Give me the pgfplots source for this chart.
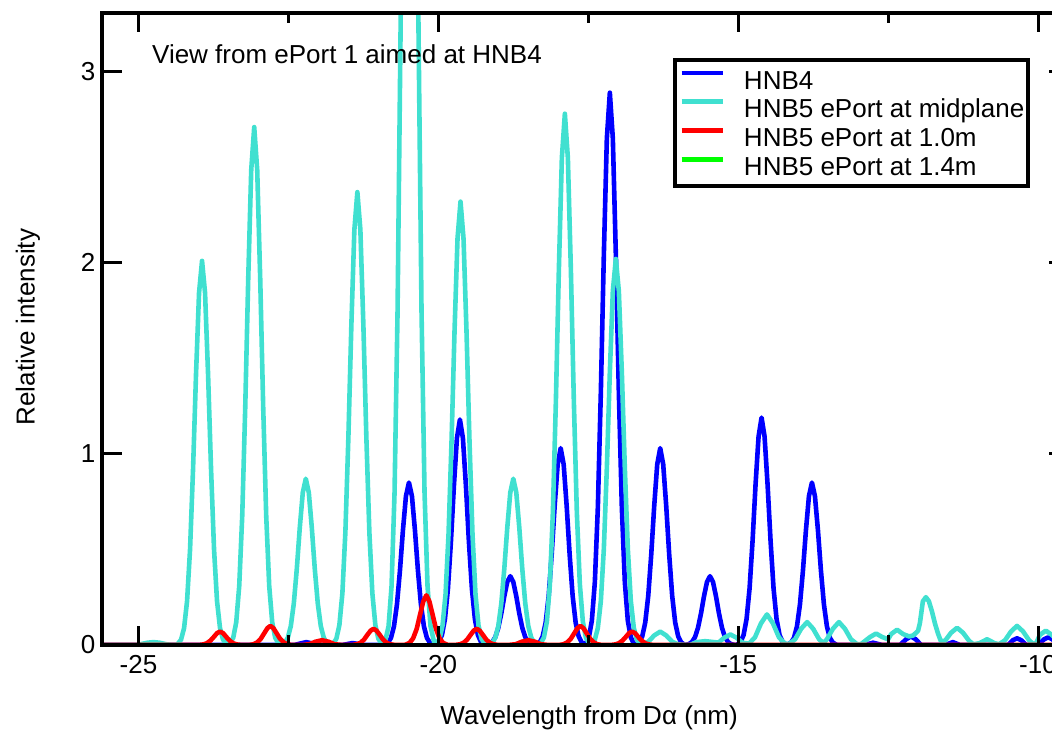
\documentclass[border=0pt]{standalone}
\usepackage{fontspec}
\setmainfont{Liberation Sans}
\usepackage{pgfplots}
\pgfplotsset{compat=1.18}
\definecolor{hnbblue}{RGB}{0,0,255}
\definecolor{hnbcyan}{RGB}{64,224,208}
\definecolor{hnbred}{RGB}{255,0,0}
\definecolor{hnbgreen}{RGB}{0,255,0}
\begin{document}
\begin{tikzpicture}[font=\fontsize{13pt}{15.6pt}\selectfont]
\begin{axis}[
  at={(0pt,0pt)}, anchor=south west,
  scale only axis, width=482.75pt, height=316pt,
  xmin=-25.6, xmax=-9.5, ymin=0, ymax=3.307,
  xtick={-25,-20,-15,-10}, minor xtick={-22.5,-17.5,-12.5},
  ytick={0,1,2,3},
  xtick pos=both, ytick pos=both, tick align=inside,
  major tick length=9.5pt, minor tick length=5pt,
  every tick/.style={black, line width=1.5pt},
  axis line style={line width=2pt},
  axis on top,
  /pgf/number format/assume math mode=true,
  xticklabel style={yshift=-1.6pt},
  xlabel={Wavelength from Dα (nm)},
  xlabel style={at={(axis description cs:0.504,-0.1155)}, anchor=center},
  ylabel={Relative intensity},
  ylabel style={at={(axis description cs:-0.0772,0.503)}, anchor=center},
  legend cell align=left,
  legend style={at={(axis description cs:0.961,0.9295)}, anchor=north east,
    draw=black, line width=2pt, inner xsep=2pt, inner ysep=5.3pt,
    row sep=4.9pt, column sep=9.5pt,
    nodes={inner sep=0pt, text height=9.5pt, text depth=0pt}},
  legend image code/.code={\draw[#1, line width=2.3pt] (0pt,3.4pt) -- (20.5pt,3.4pt);},
  every axis plot/.append style={line width=2.3pt, line join=round},
]
% HNB4
\addplot[hnbblue] coordinates {
(-25.6,0) (-22.4,0) (-22.3,0.008) (-22.2,0.015) (-22.1,0.008) (-22.0,0)
(-21.6,0) (-21.5,0.006) (-21.43,0.01) (-21.35,0.006) (-21.25,0)
(-20.91,0) (-20.84,0.012) (-20.79,0.037) (-20.74,0.097) (-20.69,0.212) (-20.64,0.389) (-20.59,0.601) (-20.54,0.779) (-20.49,0.85) (-20.44,0.779) (-20.39,0.601) (-20.34,0.389) (-20.29,0.212) (-20.24,0.097) (-20.19,0.037) (-20.14,0.012) (-20.07,0)
(-20.06,0) (-19.99,0.017) (-19.94,0.052) (-19.89,0.135) (-19.84,0.294) (-19.79,0.540) (-19.74,0.834) (-19.69,1.082) (-19.64,1.18) (-19.59,1.082) (-19.54,0.834) (-19.49,0.540) (-19.44,0.294) (-19.39,0.135) (-19.34,0.052) (-19.29,0.017) (-19.22,0)
(-19.21,0) (-19.15,0.005) (-19.10,0.016) (-19.05,0.041) (-19.00,0.090) (-18.95,0.165) (-18.90,0.255) (-18.85,0.330) (-18.80,0.36) (-18.75,0.330) (-18.70,0.255) (-18.65,0.165) (-18.60,0.090) (-18.55,0.041) (-18.50,0.016) (-18.45,0.005) (-18.39,0)
(-18.38,0) (-18.31,0.014) (-18.26,0.045) (-18.21,0.117) (-18.16,0.256) (-18.11,0.472) (-18.06,0.728) (-18.01,0.945) (-17.96,1.03) (-17.91,0.945) (-17.86,0.728) (-17.81,0.472) (-17.76,0.256) (-17.71,0.117) (-17.66,0.045) (-17.61,0.014) (-17.55,0)
(-17.55,0) (-17.49,0.040) (-17.44,0.127) (-17.39,0.329) (-17.34,0.720) (-17.29,1.324) (-17.24,2.043) (-17.19,2.650) (-17.14,2.89) (-17.09,2.650) (-17.04,2.043) (-16.99,1.324) (-16.94,0.720) (-16.89,0.329) (-16.84,0.127) (-16.79,0.040) (-16.73,0)
(-16.72,0) (-16.65,0.014) (-16.60,0.045) (-16.55,0.117) (-16.50,0.256) (-16.45,0.472) (-16.40,0.728) (-16.35,0.945) (-16.30,1.03) (-16.25,0.945) (-16.20,0.728) (-16.15,0.472) (-16.10,0.256) (-16.05,0.117) (-16.00,0.045) (-15.95,0.014) (-15.89,0)
(-15.89,0) (-15.82,0.005) (-15.77,0.016) (-15.72,0.041) (-15.67,0.090) (-15.62,0.165) (-15.57,0.255) (-15.52,0.330) (-15.47,0.36) (-15.42,0.330) (-15.37,0.255) (-15.32,0.165) (-15.27,0.090) (-15.22,0.041) (-15.17,0.016) (-15.12,0.005) (-15.05,0)
(-15.03,0) (-14.96,0.017) (-14.91,0.052) (-14.86,0.136) (-14.81,0.296) (-14.76,0.545) (-14.71,0.841) (-14.66,1.091) (-14.61,1.19) (-14.56,1.091) (-14.51,0.841) (-14.46,0.545) (-14.41,0.296) (-14.36,0.136) (-14.31,0.052) (-14.26,0.017) (-14.19,0)
(-14.19,0) (-14.12,0.012) (-14.07,0.037) (-14.02,0.097) (-13.97,0.212) (-13.92,0.389) (-13.87,0.601) (-13.82,0.779) (-13.77,0.85) (-13.72,0.779) (-13.67,0.601) (-13.62,0.389) (-13.57,0.212) (-13.52,0.097) (-13.47,0.037) (-13.42,0.012) (-13.35,0)
(-12.9,0) (-12.75,0.012) (-12.6,0) (-12.3,0) (-12.2,0.03) (-12.12,0.045) (-12.04,0.03) (-11.95,0)
(-11.55,0) (-11.42,0.015) (-11.3,0) (-10.5,0) (-10.42,0.025) (-10.35,0.035) (-10.28,0.025) (-10.2,0)
(-10.0,0) (-9.9,0.03) (-9.83,0.04) (-9.76,0.03) (-9.68,0) (-9.5,0)
};
\addlegendentry{HNB4}
% HNB5, ePort at midplane
\addplot[hnbcyan] coordinates {
(-25.6,0) (-25.0,0) (-24.95,0.005) (-24.85,0.012) (-24.75,0.015) (-24.65,0.012) (-24.55,0.005) (-24.45,0)
(-24.36,0) (-24.29,0.028) (-24.24,0.088) (-24.19,0.229) (-24.14,0.500) (-24.09,0.921) (-24.04,1.421) (-23.99,1.843) (-23.94,2.01) (-23.89,1.843) (-23.84,1.421) (-23.79,0.921) (-23.74,0.500) (-23.69,0.229) (-23.64,0.088) (-23.59,0.028) (-23.52,0)
(-23.49,0) (-23.42,0.038) (-23.37,0.119) (-23.32,0.309) (-23.27,0.675) (-23.22,1.241) (-23.17,1.916) (-23.12,2.485) (-23.07,2.71) (-23.02,2.485) (-22.97,1.916) (-22.92,1.241) (-22.87,0.675) (-22.82,0.309) (-22.77,0.119) (-22.72,0.038) (-22.65,0)
(-22.63,0) (-22.56,0.012) (-22.51,0.038) (-22.46,0.099) (-22.41,0.217) (-22.36,0.398) (-22.31,0.615) (-22.26,0.798) (-22.21,0.87) (-22.16,0.798) (-22.11,0.615) (-22.06,0.398) (-22.01,0.217) (-21.96,0.099) (-21.91,0.038) (-21.86,0.012) (-21.79,0)
(-21.77,0) (-21.70,0.033) (-21.65,0.104) (-21.60,0.270) (-21.55,0.590) (-21.50,1.085) (-21.45,1.676) (-21.40,2.173) (-21.35,2.37) (-21.30,2.173) (-21.25,1.676) (-21.20,1.085) (-21.15,0.590) (-21.10,0.270) (-21.05,0.104) (-21.00,0.033) (-20.93,0)
(-20.90,0) (-20.88,0.028) (-20.83,0.098) (-20.78,0.308) (-20.73,0.798) (-20.68,1.743) (-20.63,3.206) (-20.58,4.949) (-20.53,6.419) (-20.48,7.0) (-20.43,6.419) (-20.38,4.949) (-20.33,3.206) (-20.28,1.743) (-20.23,0.798) (-20.18,0.308) (-20.13,0.098) (-20.08,0.028) (-20.06,0)
(-20.05,0) (-19.98,0.032) (-19.93,0.102) (-19.88,0.264) (-19.83,0.578) (-19.78,1.063) (-19.73,1.640) (-19.68,2.127) (-19.63,2.32) (-19.58,2.127) (-19.53,1.640) (-19.48,1.063) (-19.43,0.578) (-19.38,0.264) (-19.33,0.102) (-19.28,0.032) (-19.21,0)
(-19.17,0) (-19.10,0.012) (-19.05,0.038) (-19.00,0.099) (-18.95,0.217) (-18.90,0.398) (-18.85,0.615) (-18.80,0.798) (-18.75,0.87) (-18.70,0.798) (-18.65,0.615) (-18.60,0.398) (-18.55,0.217) (-18.50,0.099) (-18.45,0.038) (-18.40,0.012) (-18.33,0)
(-18.31,0) (-18.24,0.039) (-18.19,0.122) (-18.14,0.317) (-18.09,0.692) (-18.04,1.273) (-17.99,1.965) (-17.94,2.549) (-17.89,2.78) (-17.84,2.549) (-17.79,1.965) (-17.74,1.273) (-17.69,0.692) (-17.64,0.317) (-17.59,0.122) (-17.54,0.039) (-17.47,0)
(-17.46,0) (-17.39,0.028) (-17.34,0.089) (-17.29,0.230) (-17.24,0.503) (-17.19,0.925) (-17.14,1.428) (-17.09,1.852) (-17.04,2.02) (-16.99,1.852) (-16.94,1.428) (-16.89,0.925) (-16.84,0.503) (-16.79,0.230) (-16.74,0.089) (-16.69,0.028) (-16.62,0)
(-16.6,0.003) (-16.5,0.017) (-16.4,0.05) (-16.3,0.07) (-16.2,0.05) (-16.1,0.017) (-16.0,0.003)
(-15.8,0) (-15.7,0.015) (-15.55,0.02) (-15.4,0.015) (-15.33,0.012)
(-15.23,0.039) (-15.13,0.055) (-15.03,0.039) (-14.93,0.012)
(-14.82,0.007) (-14.72,0.04) (-14.62,0.113) (-14.52,0.16) (-14.42,0.113) (-14.32,0.04) (-14.22,0.007)
(-14.15,0.005) (-14.05,0.03) (-13.95,0.085) (-13.85,0.12) (-13.75,0.085) (-13.65,0.03) (-13.58,0.01)
(-13.52,0.03) (-13.42,0.085) (-13.32,0.12) (-13.22,0.085) (-13.12,0.03) (-13.02,0.005)
(-12.95,0.005) (-12.8,0.042) (-12.7,0.06) (-12.6,0.042) (-12.5,0.03)
(-12.45,0.057) (-12.35,0.08) (-12.25,0.057) (-12.15,0.045)
(-12.08,0.05) (-12.0,0.075) (-11.97,0.114) (-11.92,0.229) (-11.87,0.25) (-11.82,0.229) (-11.77,0.177) (-11.72,0.114) (-11.67,0.062) (-11.62,0.02)
(-11.55,0.022) (-11.45,0.064) (-11.35,0.09) (-11.25,0.064) (-11.15,0.022) (-11.08,0.004)
(-10.98,0.009) (-10.85,0.03) (-10.72,0.009) (-10.65,0.004)
(-10.55,0.025) (-10.45,0.071) (-10.35,0.10) (-10.25,0.071) (-10.15,0.025) (-10.08,0.005)
(-10.03,0.01) (-9.97,0.053) (-9.87,0.075) (-9.77,0.053) (-9.67,0.019) (-9.6,0.003) (-9.5,0)
};
\addlegendentry{HNB5 ePort at midplane}
% HNB5, ePort at 1.0 m
\addplot[hnbred] coordinates {
(-25.6,0)
(-24.00,0) (-23.92,0.003) (-23.86,0.009) (-23.80,0.023) (-23.75,0.040) (-23.69,0.062) (-23.64,0.07) (-23.59,0.062) (-23.53,0.040) (-23.48,0.023) (-23.42,0.009) (-23.36,0.003) (-23.28,0)
(-23.16,0) (-23.08,0.004) (-23.02,0.014) (-22.96,0.033) (-22.91,0.058) (-22.85,0.088) (-22.80,0.10) (-22.75,0.088) (-22.69,0.058) (-22.64,0.033) (-22.58,0.014) (-22.52,0.004) (-22.44,0)
(-22.28,0) (-22.15,0.004) (-22.05,0.017) (-21.94,0.025) (-21.83,0.017) (-21.73,0.004) (-21.60,0)
(-21.44,0) (-21.36,0.004) (-21.30,0.011) (-21.24,0.028) (-21.19,0.050) (-21.13,0.075) (-21.08,0.085) (-21.03,0.075) (-20.97,0.050) (-20.92,0.028) (-20.86,0.011) (-20.80,0.004) (-20.72,0)
(-20.56,0) (-20.48,0.011) (-20.42,0.035) (-20.36,0.085) (-20.31,0.152) (-20.25,0.229) (-20.20,0.26) (-20.15,0.229) (-20.09,0.152) (-20.04,0.085) (-19.98,0.035) (-19.92,0.011) (-19.84,0)
(-19.72,0) (-19.64,0.004) (-19.58,0.011) (-19.52,0.028) (-19.47,0.050) (-19.41,0.075) (-19.36,0.085) (-19.31,0.075) (-19.25,0.050) (-19.20,0.028) (-19.14,0.011) (-19.08,0.004) (-19.00,0)
(-18.84,0) (-18.71,0.004) (-18.61,0.017) (-18.50,0.025) (-18.39,0.017) (-18.29,0.004) (-18.16,0)
(-17.99,0) (-17.91,0.004) (-17.85,0.014) (-17.79,0.033) (-17.74,0.058) (-17.68,0.088) (-17.63,0.10) (-17.58,0.088) (-17.52,0.058) (-17.47,0.033) (-17.41,0.014) (-17.35,0.004) (-17.27,0)
(-17.13,0) (-17.05,0.003) (-16.99,0.009) (-16.93,0.023) (-16.88,0.040) (-16.82,0.062) (-16.77,0.07) (-16.72,0.062) (-16.66,0.040) (-16.61,0.023) (-16.55,0.009) (-16.49,0.003) (-16.41,0)
(-9.5,0)
};
\addlegendentry{HNB5 ePort at 1.0m}
% HNB5, ePort at 1.4 m
\addplot[hnbgreen] coordinates {(-25.6,0) (-17.5,0) (-9.5,0)};
\addlegendentry{HNB5 ePort at 1.4m}
\node[anchor=base west, inner sep=0pt] at (axis description cs:0.051,0.920) {View from ePort 1 aimed at HNB4};
\end{axis}
\pgfresetboundingbox
\path[use as bounding box] (-51.25pt,-44pt) rectangle (474.75pt,322.5pt);
\end{tikzpicture}
\end{document}
